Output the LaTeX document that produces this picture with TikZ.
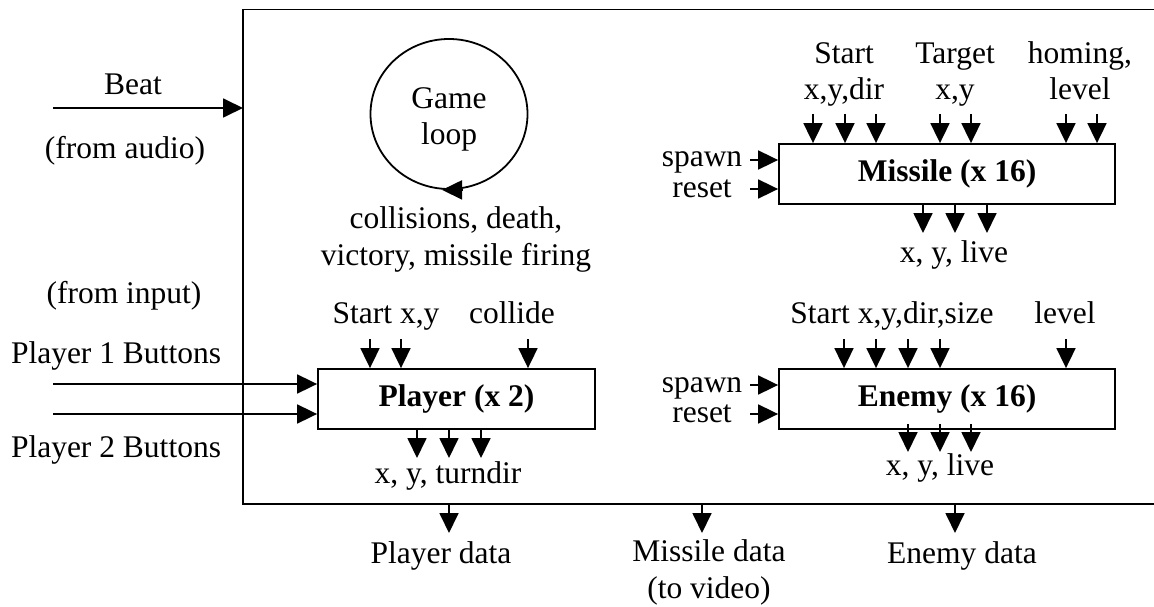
\documentclass[tikz,border=0pt]{standalone}
\usepackage{fontspec}
\setmainfont{Liberation Serif}
\usetikzlibrary{arrows.meta,shapes.geometric}
\begin{document}
\begin{tikzpicture}[x=1pt,y=-1pt,
  wire/.style={line width=1.8pt},
  arr/.style={wire,-{Triangle[length=20pt,width=19pt]}},
  lbl/.style={inner sep=0pt,anchor=base,align=center,font=\fontsize{31.5}{36.5}\selectfont},
  blk/.style={draw,line width=1.8pt,inner sep=0pt,minimum height=60pt,font=\fontsize{31.5}{36.5}\selectfont\bfseries}]
\useasboundingbox (0,0) rectangle (1154,607);

% enclosing frame (open on the right)
\coordinate (fTR) at (1154,9.5);
\coordinate (fTL) at (243,9.5);
\coordinate (fBL) at (243,504);
\coordinate (fBR) at (1154,504);
\draw[wire] (fTR) -- (fTL) -- (fBL) -- (fBR);

% beat input
\coordinate (beatIn) at (53,108);
\draw[arr] (beatIn) -- (beatIn -| fTL);
\node[lbl] (beat) at (133,95) {Beat};
\node[lbl] (fromaudio) at (125,158) {(from audio)};

% game loop (multi-line labels are placed by the baseline of their last line)
\node[draw,wire,ellipse,minimum width=157pt,minimum height=150pt,inner sep=0pt] (loop) at (449,114) {};
\node[lbl] (looptxt) at (449,145) {Game\\loop};
\draw[arr] ([xshift=13pt]loop.south) -- ([xshift=-7pt]loop.south);
\node[lbl] (events) at (456,265) {collisions, death,\\victory, missile firing};

% player inputs
\node[lbl] (frominput) at (124,303) {(from input)};
\node[lbl] (p1btn) at (116,363) {Player 1 Buttons};
\node[lbl] (p2btn) at (116,457) {Player 2 Buttons};

% player block
\node[blk,minimum width=277pt] (player) at (456.5,399) {Player (x 2)};
\coordinate (p1in) at (53,384);
\coordinate (p2in) at (53,414);
\draw[arr] (p1in) -- (p1in -| player.west);
\draw[arr] (p2in) -- (p2in -| player.west);
\node[lbl] (pstart) at (386,323) {Start x,y};
\node[lbl] (pcoll) at (512,323) {collide};
\foreach \x [count=\i] in {370,401,528} {
  \coordinate (ps\i) at (\x,339);
  \draw[arr] (ps\i) -- (ps\i |- player.north);
}
\foreach \x [count=\i] in {417,449,481} {
  \coordinate (po\i) at (\x,458);
  \draw[arr] (po\i |- player.south) -- (po\i);
}
\node[lbl] (pout) at (448,483) {x, y, turndir};

% missile block
\node[blk,minimum width=336pt] (missile) at (947,174) {Missile (x 16)};
\node[lbl] (mstart) at (844,100) {Start\\x,y,dir};
\node[lbl] (mtarget) at (955,100) {Target\\x,y};
\node[lbl] (mhome) at (1080,100) {homing,\\level};
\foreach \x [count=\i] in {813,845,876,940,971,1066,1097} {
  \coordinate (ms\i) at (\x,114);
  \draw[arr] (ms\i) -- (ms\i |- missile.north);
}
\node[lbl] (mspawn) at (702,167) {spawn};
\node[lbl] (mreset) at (702,197) {reset};
\coordinate (msp) at (750,160);
\coordinate (mrs) at (750,189);
\draw[arr] (msp) -- (msp -| missile.west);
\draw[arr] (mrs) -- (mrs -| missile.west);
\foreach \x [count=\i] in {923,955,987} {
  \coordinate (mo\i) at (\x,233);
  \draw[arr] (mo\i |- missile.south) -- (mo\i);
}
\node[lbl] (mout) at (954,262) {x, y, live};

% enemy block
\node[blk,minimum width=336pt] (enemy) at (947,399) {Enemy (x 16)};
\node[lbl] (estart) at (892,323) {Start x,y,dir,size};
\node[lbl] (elevel) at (1065,323) {level};
\foreach \x [count=\i] in {844,876,908,940,1066} {
  \coordinate (es\i) at (\x,339);
  \draw[arr] (es\i) -- (es\i |- enemy.north);
}
\node[lbl] (espawn) at (702,392) {spawn};
\node[lbl] (ereset) at (702,422) {reset};
\coordinate (esp) at (750,385);
\coordinate (ers) at (750,414);
\draw[arr] (esp) -- (esp -| enemy.west);
\draw[arr] (ers) -- (ers -| enemy.west);
\foreach \x [count=\i] in {908,940,971} {
  \coordinate (eo\i) at (\x,452);
  \draw[arr] ([yshift=6pt]eo\i |- enemy.south) -- (eo\i);
}
\node[lbl] (eout) at (940,475) {x, y, live};

% outputs to video
\foreach \x/\n in {449/pd,702/md,955/ed} {
  \coordinate (\n) at (\x,533);
  \draw[arr] (\n |- fBL) -- (\n);
}
\node[lbl] (pdata) at (441,563) {Player data};
\node[lbl] (mdata) at (709,598) {Missile data\\(to video)};
\node[lbl] (edata) at (962,563) {Enemy data};
\end{tikzpicture}
\end{document}
